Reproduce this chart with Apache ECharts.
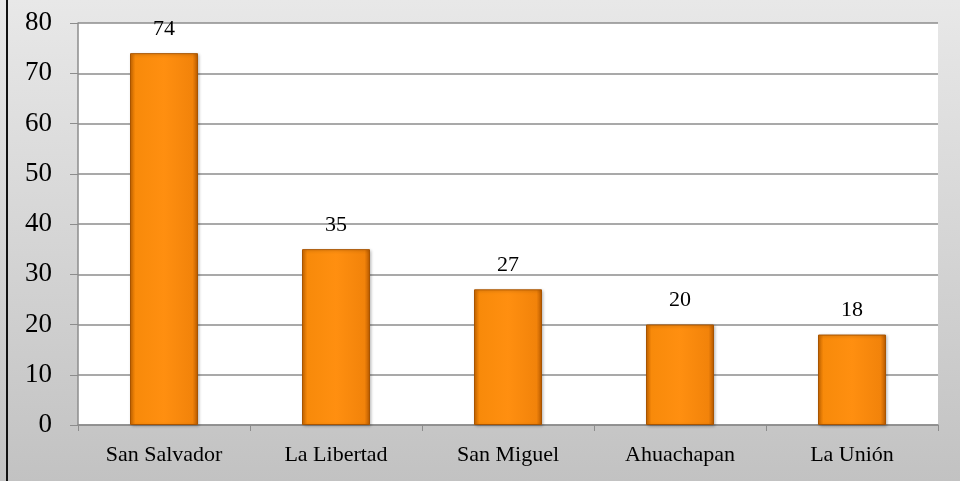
<!DOCTYPE html>
<html>
<head>
<meta charset="utf-8">
<script src="https://cdn.jsdelivr.net/npm/echarts@6/dist/echarts.min.js"></script>
<style>
  html, body { margin: 0; padding: 0; }
  #chart { width: 960px; height: 481px; }
</style>
</head>
<body>
<div id="chart"></div>
<script>
const categories = ['San Salvador', 'La Libertad', 'San Miguel', 'Ahuachapan', 'La Unión'];
const values = [74, 35, 27, 20, 18];
const yTicks = { min: 0, max: 80, interval: 10 };

const serif = '"Palatino Linotype", "Book Antiqua", Palatino, "Liberation Serif", "DejaVu Serif", serif';

const barFill = new echarts.graphic.LinearGradient(0, 0, 1, 0, [
  { offset: 0, color: '#d06a00' },
  { offset: 0.08, color: '#f88a0a' },
  { offset: 0.5, color: '#ff8f10' },
  { offset: 0.92, color: '#f2830a' },
  { offset: 1, color: '#b85a00' }
]);

const chart = echarts.init(document.getElementById('chart'));

chart.setOption({
  animation: false,
  backgroundColor: new echarts.graphic.LinearGradient(0, 0, 0, 1, [
    { offset: 0, color: '#e8e8e8' },
    { offset: 1, color: '#c2c2c2' }
  ]),
  graphic: [{
    type: 'line',
    shape: { x1: 7, y1: 0, x2: 7, y2: 481 },
    style: { stroke: '#111', lineWidth: 2 }
  }],
  grid: {
    left: 78, right: 22, top: 23, bottom: 56,
    show: true, backgroundColor: '#ffffff', borderWidth: 0
  },
  xAxis: {
    type: 'category',
    data: categories,
    axisLine: { lineStyle: { color: '#8c8c8c', width: 1.5 } },
    axisTick: { show: true, length: 6, lineStyle: { color: '#8c8c8c' } },
    axisLabel: { color: '#000', fontFamily: serif, fontSize: 22, margin: 19 }
  },
  yAxis: {
    type: 'value',
    min: yTicks.min, max: yTicks.max, interval: yTicks.interval,
    axisLine: { show: true, lineStyle: { color: '#8c8c8c', width: 1.5 } },
    axisTick: { show: true, length: 8, lineStyle: { color: '#8c8c8c' } },
    axisLabel: { color: '#000', fontFamily: serif, fontSize: 27, margin: 26 },
    splitLine: { lineStyle: { color: '#8c8c8c', width: 1.5 } }
  },
  series: [{
    type: 'bar',
    data: values,
    barWidth: 68,
    itemStyle: {
      color: barFill,
      borderColor: '#a85400',
      borderWidth: 1,
      shadowColor: 'rgba(0,0,0,0.25)',
      shadowBlur: 3,
      shadowOffsetX: 1,
      shadowOffsetY: 1
    },
    label: {
      show: true,
      position: 'top',
      distance: 13,
      color: '#000',
      fontFamily: serif,
      fontSize: 22
    }
  }]
});
</script>
</body>
</html>
